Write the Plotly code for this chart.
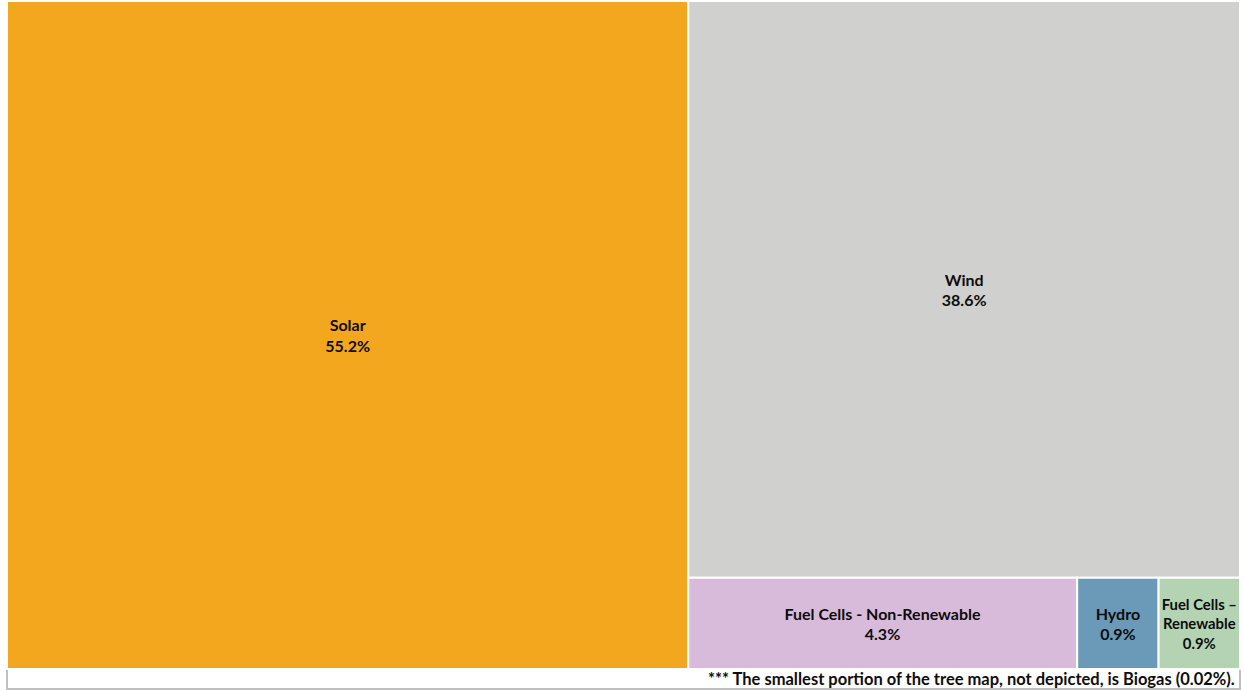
import plotly.graph_objects as go

labels = ["Solar", "Wind", "Fuel Cells - Non-Renewable", "Hydro", "Fuel Cells –<br>Renewable"]
values = [55.2, 38.6, 4.3, 0.9, 0.9]
pct_text = ["55.2%", "38.6%", "4.3%", "0.9%", "0.9%"]
colors = ["#F3A71F", "#D0D0CE", "#D8BBDB", "#6B9AB8", "#B3D3B3"]
footnote = "*** The smallest portion of the tree map, not depicted, is Biogas (0.02%)."

W, H = 1244, 690

fig = go.Figure(go.Treemap(
    labels=labels,
    parents=[""] * len(labels),
    values=values,
    customdata=pct_text,
    texttemplate="<b>%{label}</b><br><b>%{customdata}</b>",
    textposition="middle center",
    textfont=dict(family="Lato", size=16, color="#0d0d0d"),
    marker=dict(colors=colors, line=dict(color="white", width=2),
                pad=dict(t=0, l=0, r=0, b=0)),
    tiling=dict(packing="squarify", pad=0),
    pathbar=dict(visible=False),
    sort=True,
    hoverinfo="skip",
    domain=dict(x=[7 / W, 1240 / W], y=[(H - 669) / H, (H - 1) / H]),
))

fig.add_shape(type="rect", xref="paper", yref="paper",
              x0=7 / W, x1=1240 / W, y0=(H - 689) / H, y1=(H - 668) / H,
              line=dict(color="#BFBFBF", width=2), fillcolor="white", layer="below")
fig.add_annotation(text="<b>" + footnote + "</b>", xref="paper", yref="paper",
                   x=1237 / W, y=(H - 678.5) / H, xanchor="right", yanchor="middle",
                   showarrow=False, font=dict(family="Lato", size=16.5, color="#0d0d0d"))

fig.update_layout(width=W, height=H, margin=dict(l=0, r=0, t=0, b=0),
                  paper_bgcolor="white", plot_bgcolor="white")
fig.write_html("out.html", config={"displayModeBar": False},
               post_script="document.body.style.margin='0';")
